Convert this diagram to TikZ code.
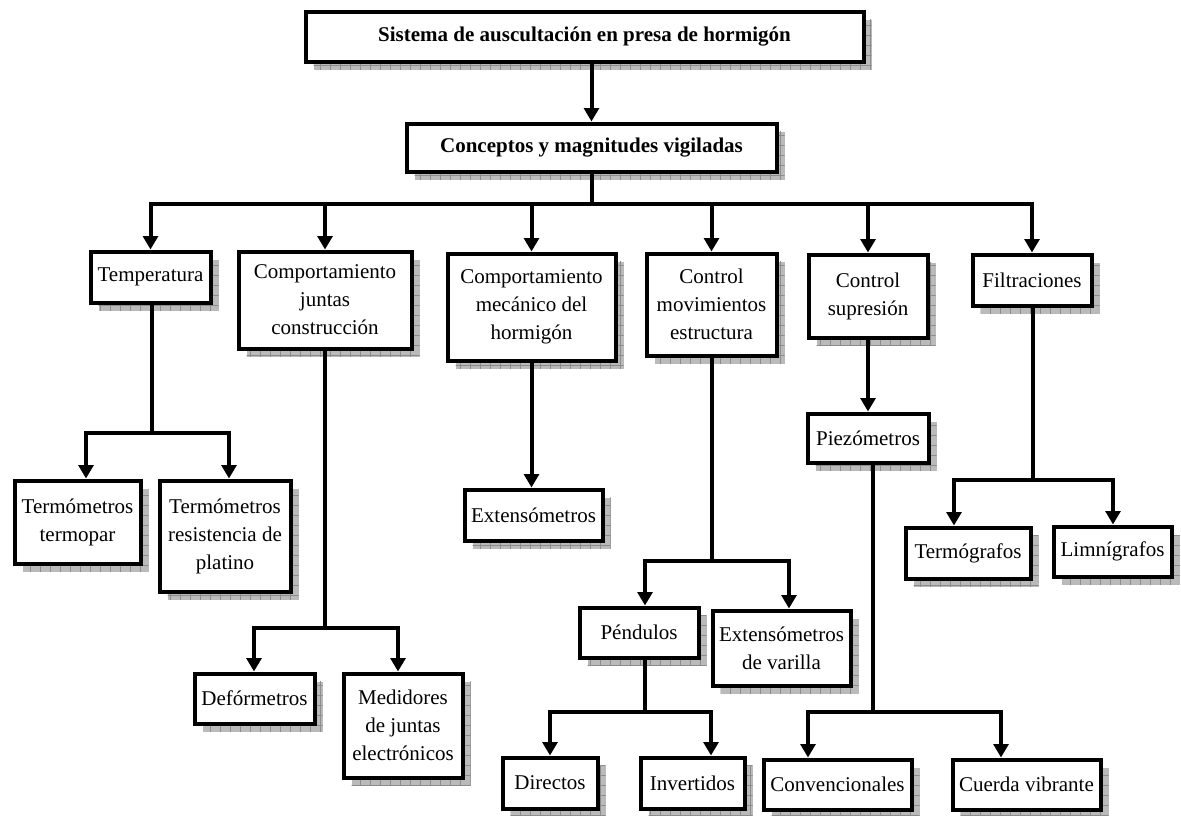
\documentclass[tikz,border=0pt]{standalone}
\usepackage{fontspec}
\setmainfont{Liberation Serif}
\usetikzlibrary{arrows.meta,shadows,patterns.meta}
\tikzset{
  box/.style={draw, line width=3pt, fill=white, align=center, inner sep=0pt,
    font=\fontsize{15.75}{21}\selectfont,
    general shadow={fill=black!27, shadow xshift=6pt, shadow yshift=-6pt},
    general shadow={pattern={Lines[distance=7.5pt,angle=90,line width=0.5pt]}, pattern color=black!45, shadow xshift=6pt, shadow yshift=-6pt},
    general shadow={pattern={Lines[distance=7.5pt,angle=0,line width=0.5pt]}, pattern color=black!45, shadow xshift=6pt, shadow yshift=-6pt}},
  conn/.style={line width=3pt},
  arr/.style={conn, -{Triangle[width=11pt,length=10pt]}},
}
\newcommand\bx[6]{\node[box, minimum width=#4*0.75pt, minimum height=#5*0.75pt] (#1) at (#2,#3) {#6};}
\begin{document}
\begin{tikzpicture}[x=0.75pt,y=-0.75pt]
\useasboundingbox (0,0) rectangle (1181,815);
% boxes
\bx{top}{584.5}{36.5}{558}{50}{\textbf{Sistema de auscultación en presa de hormigón}}
\bx{con}{591.5}{147.5}{370}{48}{\textbf{Conceptos y magnitudes vigiladas}}
\bx{temp}{150.5}{277}{120}{51}{Temperatura}
\bx{cjc}{325}{300}{173}{97}{Comportamiento\\juntas\\construcción}
\bx{cmh}{531.5}{307}{168}{107}{Comportamiento\\mecánico del\\hormigón}
\bx{cme}{711.5}{304.5}{130}{102}{Control\\movimientos\\estructura}
\bx{cs}{868}{296}{119}{83}{Control\\supresión}
\bx{fil}{1032}{280}{119}{51}{Filtraciones}
\bx{tt}{77.5}{522}{126}{83}{Termómetros\\termopar}
\bx{trp}{225}{536}{131}{111}{Termómetros\\resistencia de\\platino}
\bx{def}{254.5}{698.5}{120}{50}{Defórmetros}
\bx{med}{403}{725.5}{119}{104}{Medidores\\de juntas\\electrónicos}
\bx{ext}{533.5}{515}{138}{51}{Extensómetros}
\bx{pen}{639}{632.5}{119}{50}{Péndulos}
\bx{exv}{781.5}{648}{138}{75}{Extensómetros\\de varilla}
\bx{dir}{550}{783}{95}{51}{Directos}
\bx{inv}{692.5}{783}{104}{51}{Invertidos}
\bx{pie}{868}{438}{121}{49}{Piezómetros}
\bx{cnv}{837.5}{784.5}{148}{50}{Convencionales}
\bx{cv}{1026.5}{784.5}{148}{50}{Cuerda vibrante}
\bx{tg}{968}{553}{125}{51}{Termógrafos}
\bx{lim}{1112.5}{551.5}{118}{50}{Limnígrafos}
% top connectors
\draw[arr] (top.south -| con.north) -- (con.north);
\coordinate (h0) at (591.5,204);
\foreach \n in {temp,cjc,cmh,cme,cs,fil}{
  \draw[arr] (con.south) |- (\n.north |- h0) -- (\n.north);
}
% Temperatura
\coordinate (tA) at (152,433); \coordinate (tL) at (86,433); \coordinate (tR) at (229,433);
\draw[arr] (temp.south -| tA) |- (tL) -- (tL |- tt.north);
\draw[arr] (temp.south -| tA) |- (tR) -- (tR |- trp.north);
% Comportamiento juntas
\coordinate (jA) at (325,628); \coordinate (jL) at (254,628); \coordinate (jR) at (398,628);
\draw[arr] (cjc.south -| jA) |- (jL) -- (jL |- def.north);
\draw[arr] (cjc.south -| jA) |- (jR) -- (jR |- med.north);
% Comportamiento mecanico
\draw[arr] (cmh.south) -- (cmh.south |- ext.north);
% Control movimientos
\coordinate (mA) at (712,561); \coordinate (mL) at (645,561); \coordinate (mR) at (789,561);
\draw[arr] (cme.south -| mA) |- (mL) -- (mL |- pen.north);
\draw[arr] (cme.south -| mA) |- (mR) -- (mR |- exv.north);
% Pendulos
\coordinate (pA) at (645,712); \coordinate (pL) at (550,712); \coordinate (pR) at (711,712);
\draw[arr] (pen.south -| pA) |- (pL) -- (pL |- dir.north);
\draw[arr] (pen.south -| pA) |- (pR) -- (pR |- inv.north);
% Control supresion
\draw[arr] (cs.south) -- (pie.north);
% Piezometros
\coordinate (zA) at (873,712); \coordinate (zL) at (808,712); \coordinate (zR) at (1001,712);
\draw[arr] (pie.south -| zA) |- (zL) -- (zL |- cnv.north);
\draw[arr] (pie.south -| zA) |- (zR) -- (zR |- cv.north);
% Filtraciones
\coordinate (fA) at (1033,480); \coordinate (fL) at (954,480); \coordinate (fR) at (1113,480);
\draw[arr] (fil.south -| fA) |- (fL) -- (fL |- tg.north);
\draw[arr] (fil.south -| fA) |- (fR) -- (fR |- lim.north);
\end{tikzpicture}
\end{document}
